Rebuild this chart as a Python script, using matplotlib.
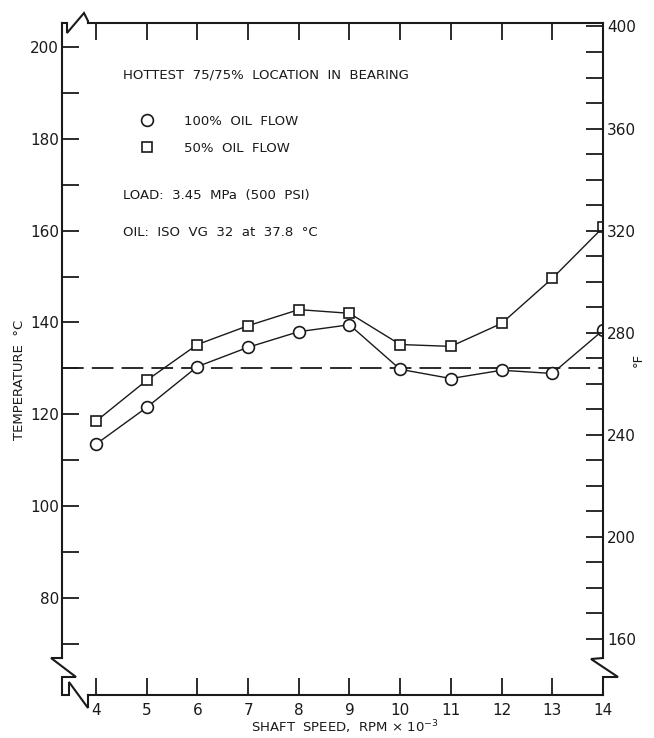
import matplotlib
matplotlib.use("Agg")
import matplotlib.pyplot as plt
from matplotlib.lines import Line2D
import numpy as np

plt.rcParams['font.family'] = ['DejaVu Sans']

# ---- data ----
speed_krpm = [4, 5, 6, 7, 8, 9, 10, 11, 12, 13, 14]
temp_100_flow = [113.5, 121.5, 130.4, 134.6, 138.0, 139.5, 129.8, 127.8, 129.6, 128.9, 138.3]
temp_50_flow = [118.5, 127.4, 135.2, 139.3, 142.8, 142.0, 135.2, 134.8, 139.8, 149.6, 160.7]
reference_temp_c = 130.0

x_ticks = list(range(4, 15))
c_ticks_major = list(range(80, 201, 20))
c_ticks_minor = list(range(70, 200, 20))
f_ticks_major = list(range(160, 401, 40))
f_ticks_minor = [v for v in range(160, 401, 10) if v % 40 != 0]

annot_title = "HOTTEST  75/75%  LOCATION  IN  BEARING"
legend_labels = ["100%  OIL  FLOW", "50%  OIL  FLOW"]
annot_load = "LOAD:  3.45  MPa  (500  PSI)"
annot_oil = "OIL:  ISO  VG  32  at  37.8  \u00b0C"

W, H = 654, 738
INK = "#1a1a1a"

def c2f(c):
    return c * 9.0 / 5.0 + 32.0

fig = plt.figure(figsize=(W / 100, H / 100), dpi=100)
ax = fig.add_axes([62 / W, 1 - 695 / H, (603 - 62) / W, (695 - 23) / H])

xlim = (3.33, 14.0)
ylim = (58.9, 205.2)
ax.set_xlim(*xlim)
ax.set_ylim(*ylim)

# data lines
ax.plot(speed_krpm, temp_100_flow, color=INK, lw=1.0, marker='o', ms=8.5,
        mfc='white', mec=INK, mew=1.2, zorder=4)
ax.plot(speed_krpm, temp_50_flow, color=INK, lw=1.0, marker='s', ms=7,
        mfc='white', mec=INK, mew=1.2, zorder=4)
ax.axhline(reference_temp_c, color=INK, lw=1.3, dashes=(12, 4.5), zorder=3)

# ticks left/bottom/top
ax.set_xticks(x_ticks)
ax.set_yticks(c_ticks_major)
ax.set_yticks(c_ticks_minor, minor=True)
ax.tick_params(axis='both', which='both', direction='in', length=12, width=1.3,
               color=INK, labelcolor=INK, labelsize=11)
ax.tick_params(axis='x', top=True, labeltop=False, pad=6)
ax.tick_params(axis='y', which='both', right=False, pad=2)

# right axis in F
ax2 = ax.twinx()
ax2.set_ylim(c2f(ylim[0]), c2f(ylim[1]))
ax2.set_yticks(f_ticks_major)
ax2.set_yticks(f_ticks_minor, minor=True)
ax2.tick_params(axis='y', which='both', direction='in', length=12, width=1.3,
                color=INK, labelcolor=INK, labelsize=11, pad=3)

# spines
for s in ['left', 'right', 'top', 'bottom']:
    ax2.spines[s].set_visible(False)
ax.spines['right'].set_visible(False)
ybreak = ylim[1] - (658 - 23) / ((695 - 23) / (ylim[1] - ylim[0]))
xbreak = xlim[0] + (88 - 62) / ((603 - 62) / (xlim[1] - xlim[0]))
ax.spines['left'].set_bounds(ybreak, ylim[1])
ax.spines['bottom'].set_bounds(xbreak, xlim[1])
ax.spines['top'].set_bounds(xbreak, xlim[1])
ax2.spines['right'].set_visible(True)
ax2.spines['right'].set_bounds(c2f(ybreak), c2f(ylim[1]))
for sp in list(ax.spines.values()) + [ax2.spines['right']]:
    sp.set_linewidth(1.5)
    sp.set_color(INK)

# axis break decorations (figure pixel coords)
def pix_line(pts):
    xs = [p[0] / W for p in pts]
    ys = [1 - p[1] / H for p in pts]
    fig.add_artist(Line2D(xs, ys, transform=fig.transFigure, color=INK, lw=1.5,
                          solid_joinstyle='miter'))

pix_line([(62, 23), (67, 23), (67, 33), (84, 13), (88, 21), (88, 23)])
pix_line([(62, 658), (51, 658), (76, 677), (62, 677), (62, 695), (69, 695),
          (69, 682), (88, 708), (88, 695)])
pix_line([(603, 658), (591, 659), (618, 677), (603, 677), (603, 695)])

# labels
fig.text(20 / W, 1 - 380 / H, "TEMPERATURE  \u00b0C", rotation=90, ha='center',
         va='center', fontsize=9.5, color=INK)
fig.text(638 / W, 1 - 360 / H, "\u00b0F", rotation=90, ha='center',
         va='center', fontsize=9.5, color=INK)
fig.text(345 / W, 1 - 727 / H, "SHAFT  SPEED,  RPM \u00d7 10$^{-3}$", ha='center',
         va='center', fontsize=9.5, color=INK)

# annotations
fig.text(123 / W, 1 - 75 / H, annot_title, ha='left', va='center', fontsize=9.5, color=INK)
fig.text(123 / W, 1 - 195 / H, annot_load, ha='left', va='center', fontsize=9.5, color=INK)
fig.text(123 / W, 1 - 233 / H, annot_oil, ha='left', va='center', fontsize=9.5, color=INK)

handles = [Line2D([], [], ls='none', marker='o', ms=8.5, mfc='white', mec=INK, mew=1.2),
           Line2D([], [], ls='none', marker='s', ms=7, mfc='white', mec=INK, mew=1.2)]
fig.legend(handles, legend_labels, loc='upper left',
           bbox_to_anchor=(140 / W, 1 - 115 / H), frameon=False, fontsize=9.5,
           handlelength=1.0, handletextpad=2.3, labelspacing=1.05,
           borderpad=0, borderaxespad=0, labelcolor=INK)

fig.savefig("out.png", dpi=100)
